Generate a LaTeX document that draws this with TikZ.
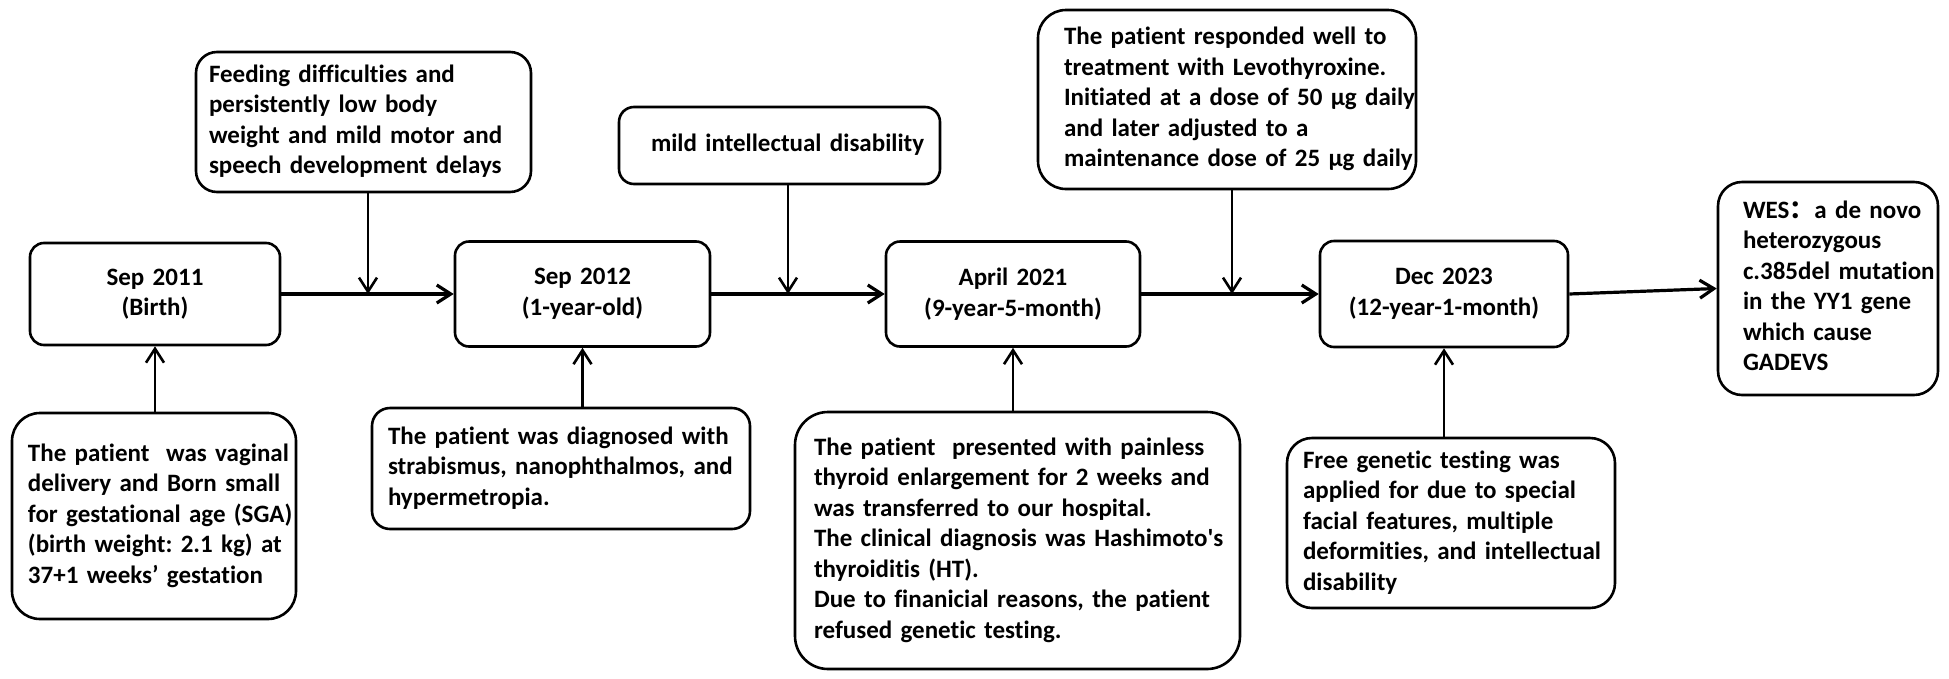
\documentclass[tikz,border=0pt]{standalone}
\usepackage{fontspec}
\setmainfont{Carlito}[Ligatures=NoCommon]
\newfontfamily\cjk{Noto Sans CJK SC}
\usetikzlibrary{arrows.meta}
\newcommand\myinset[2]{\hspace*{#1pt}\begin{tabular}{@{}l@{}}#2\end{tabular}}
\begin{document}
\frenchspacing
\begin{tikzpicture}[x=1pt,y=-1pt,
  box/.style={draw, line width=2.6pt, inner xsep=0pt, inner ysep=0pt,
    font=\bfseries\fontsize{25}{30.5}\selectfont\frenchspacing},
  tl/.style={box, align=center, rounded corners=14pt},
  note/.style={box, align=left},
  conn/.style={line width=2.6pt, -{Straight Barb[length=14pt, width=18pt]}},
  mainconn/.style={conn, line width=3.2pt}]
\useasboundingbox[fill=white] (0,0) rectangle (1949,678);

% timeline boxes
\node[tl, text width=250pt, minimum height=102pt] (s11) at (155,294) {Sep 2011\\(Birth)};
\node[tl, text width=255pt, minimum height=105pt] (s12) at (582.5,294) {Sep 2012\\(1-year-old)};
\node[tl, text width=254pt, minimum height=105pt] (a21) at (1013,294) {April 2021\\(9-year-5-month)};
\node[tl, text width=248pt, minimum height=106pt] (d23) at (1444,294) {Dec 2023\\(12-year-1-month)};
\node[note, rounded corners=24pt, text width=220pt, minimum height=213pt] (wes) at (1828,288.5)
  {\myinset{25}{WES{\cjk ：}a de novo\\heterozygous\\c.385del mutation\\in the YY1 gene\\which cause\\GADEVS}};

% upper notes
\node[note, rounded corners=21pt, text width=335pt, minimum height=140pt] (feed) at (363.5,122)
  {\myinset{13}{Feeding difficulties and\\persistently low body\\weight and mild motor and\\speech development delays}};
\node[note, rounded corners=15pt, text width=321pt, minimum height=77pt] (mild) at (779.5,145.5)
  {\myinset{32}{mild intellectual disability}};
\node[note, rounded corners=28pt, text width=378pt, minimum height=179pt] (levo) at (1227,99.5)
  {\myinset{26}{The patient responded well to\\treatment with Levothyroxine.\\Initiated at a dose of 50 µg daily\\and later adjusted to a\\maintenance dose of 25 µg daily}};

% lower notes
\node[note, rounded corners=28pt, text width=284pt, minimum height=206pt] (vag) at (154,516)
  {\myinset{16}{The patient~ was vaginal\\delivery and Born small\\for gestational age (SGA)\\(birth weight: 2.1 kg) at\\37+1 weeks’ gestation}};
\node[note, rounded corners=18pt, text width=378pt, minimum height=121pt] (strab) at (561,468.5)
  {\myinset{16}{The patient was diagnosed with\\strabismus, nanophthalmos, and\\hypermetropia.}};
\node[note, rounded corners=33pt, text width=445pt, minimum height=257pt] (pres) at (1017.5,540.5)
  {\myinset{19}{The patient~ presented with painless\\thyroid enlargement for 2 weeks and\\was transferred to our hospital.\\The clinical diagnosis was Hashimoto\textquotesingle s\\thyroiditis (HT).\\Due to finanicial reasons, the patient\\refused genetic testing.}};
\node[note, rounded corners=25pt, text width=328pt, minimum height=170pt] (free) at (1451,523)
  {\myinset{16}{Free genetic testing was\\applied for due to special\\facial features, multiple\\deformities, and intellectual\\disability}};

% junctions on the main line
\coordinate (j1) at (368,294);
\coordinate (j2) at (788,294);
\coordinate (j3) at (1232,294);

% main timeline
\draw[mainconn] (s11.east) -- (s12.west);
\draw[mainconn] (s12.east) -- (a21.west);
\draw[mainconn] (a21.east) -- (d23.west);
\draw[mainconn] (d23.east) -- (wes.west);

% down arrows
\draw[conn] (feed.south -| j1) -- (j1);
\draw[conn] (mild.south -| j2) -- (j2);
\draw[conn] (levo.south -| j3) -- (j3);

% up arrows
\draw[conn] (vag.north -| s11.south) -- (s11.south);
\draw[conn] (strab.north -| s12.south) -- (s12.south);
\draw[conn] (pres.north -| a21.south) -- (a21.south);
\draw[conn] (free.north -| d23.south) -- (d23.south);
\end{tikzpicture}
\end{document}
